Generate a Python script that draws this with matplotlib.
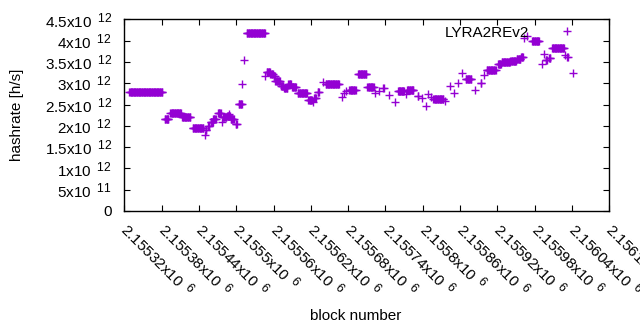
import numpy as np
import matplotlib
matplotlib.use("Agg")
import matplotlib.pyplot as plt
from matplotlib.ticker import FuncFormatter, MultipleLocator
try:
    import matplotlib._mathtext as _mt
    _mt.SHRINK_FACTOR = 0.8
except Exception:
    pass

plt.rcParams['font.family'] = ['Liberation Sans', 'DejaVu Sans']
plt.rcParams['mathtext.fontset'] = 'custom'
plt.rcParams['mathtext.rm'] = 'Liberation Sans'
plt.rcParams['mathtext.it'] = 'Liberation Sans:italic'
plt.rcParams['mathtext.bf'] = 'Liberation Sans:bold'

BASE_BLOCK = 2155320
# runs of constant hashrate: first block offset, last block offset, hashrate (x1e12 h/s)
run_start = [8, 65, 74, 93, 110, 129, 131, 135, 139, 143, 151, 157, 158, 165, 168, 171,
             179, 184, 190, 193, 197, 227, 229, 235, 240, 243, 252, 257, 264, 270,
             279, 296, 303, 305, 311, 320, 324, 350, 354, 357, 362, 376, 391, 403,
             410, 416, 426, 435, 440, 453, 455, 472, 478, 485, 489, 493, 497, 516,
             524, 531, 536, 543, 549, 564, 573, 578, 583, 601, 607, 621, 631, 638,
             643, 648, 656, 671, 675, 678, 683, 688, 709, 712, 721]
run_end = [61, 71, 91, 106, 127, 129, 132, 137, 142, 147, 155, 157, 164, 170, 168, 176,
           181, 189, 190, 193, 226, 227, 234, 239, 242, 250, 256, 262, 268, 276,
           294, 302, 303, 308, 313, 320, 345, 350, 354, 357, 372, 389, 401, 403,
           410, 417, 426, 435, 450, 453, 465, 473, 478, 485, 489, 493, 513, 516,
           524, 531, 536, 543, 558, 564, 574, 578, 597, 606, 620, 630, 637, 641,
           643, 648, 667, 671, 675, 680, 685, 707, 709, 713, 721]
run_value = [2.80, 2.16, 2.29, 2.21, 1.96, 1.79, 1.91, 2.00, 2.10, 2.16, 2.29, 2.10, 2.20, 2.22, 2.28, 2.17,
             2.04, 2.52, 2.97, 3.55, 4.19, 3.17, 3.27, 3.22, 3.17, 3.06, 2.94, 2.89, 2.98, 2.92,
             2.76, 2.61, 2.55, 2.66, 2.79, 3.02, 2.97, 2.68, 2.76, 2.81, 2.85, 3.21, 2.92, 2.76,
             2.82, 2.89, 2.72, 2.57, 2.81, 2.74, 2.83, 2.70, 2.65, 2.46, 2.75, 2.68, 2.64, 2.59,
             2.93, 2.78, 3.00, 3.23, 3.11, 2.83, 3.00, 3.19, 3.32, 3.44, 3.50, 3.53, 3.57, 3.62,
             4.05, 4.10, 3.98, 3.46, 3.69, 3.55, 3.59, 3.82, 3.66, 3.61, 3.24]

blocks = []
rates = []
for s, e, v in zip(run_start, run_end, run_value):
    for b in range(s, e + 1):
        blocks.append(BASE_BLOCK + b)
        rates.append(v * 1e12)

COLOR = '#9400D3'
fig = plt.figure(figsize=(6.4, 3.3), dpi=100)
ax = fig.add_axes([124.3 / 640, 1 - 211 / 330, (609.3 - 124.3) / 640, (211 - 19.3) / 330])
ax.plot(blocks, rates, linestyle='none', marker='+', markersize=5.5, markeredgewidth=1.0,
        color=COLOR, label='LYRA2REv2')

ax.set_xlim(2155320, 2156100)
ax.set_ylim(0, 4.5e12)
ax.xaxis.set_major_locator(MultipleLocator(60))
ax.yaxis.set_major_locator(MultipleLocator(0.5e12))


def sci(val, pos=None):
    if val == 0:
        return '0'
    exp = int(np.floor(np.log10(abs(val)) + 1e-9))
    mant = val / 10 ** exp
    return '{:.6g}x10 $\\,^{{{}}}$'.format(round(mant, 6), exp)


ax.xaxis.set_major_formatter(FuncFormatter(sci))
ax.yaxis.set_major_formatter(FuncFormatter(sci))
ax.tick_params(direction='in', length=4, width=0.8, top=True, right=True, labelsize=11)
ax.tick_params(axis='y', pad=9)
ax.tick_params(axis='x', pad=10.5)
for lbl in ax.get_xticklabels():
    lbl.set_rotation(-45)
    lbl.set_ha('left')
    lbl.set_va('center')
    lbl.set_rotation_mode('anchor')
for sp in ax.spines.values():
    sp.set_linewidth(1.0)

fig.text(17 / 640, 1 - 115 / 330, 'hashrate [h/s]', rotation=90, ha='center', va='center', fontsize=11)
fig.text(356 / 640, 1 - 316 / 330, 'block number', ha='center', va='center', fontsize=11)

ax.legend(loc='center right', bbox_to_anchor=(0.967, 0.931), markerfirst=False, frameon=False,
          borderpad=0, borderaxespad=0, handlelength=3.5, handletextpad=0.7, numpoints=1, fontsize=11)

fig.savefig('out.png', dpi=100)
